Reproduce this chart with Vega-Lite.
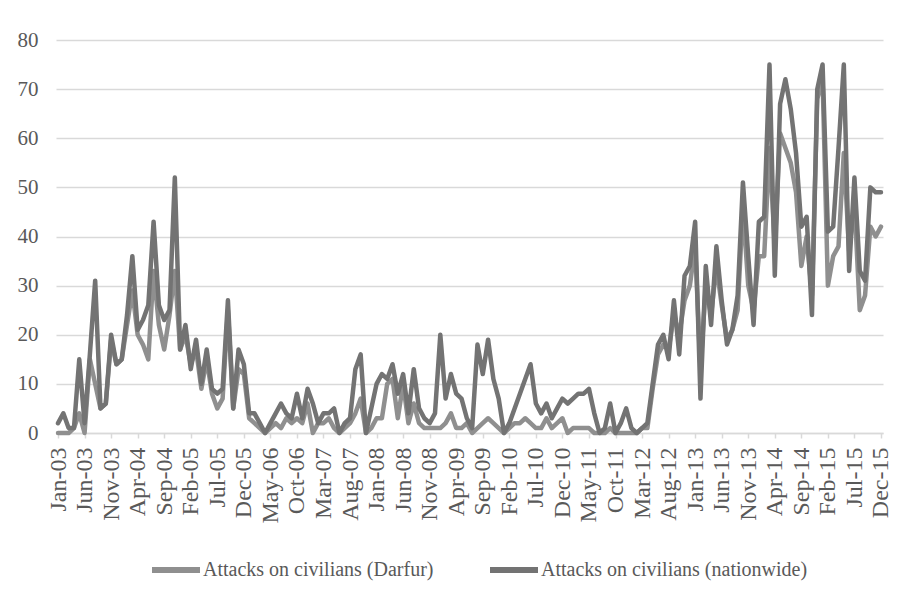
{
  "$schema": "https://vega.github.io/schema/vega-lite/v6.json",
  "width": 827,
  "height": 393,
  "autosize": {"type": "none"},
  "padding": {"left": 56, "top": 40, "right": 24, "bottom": 168},
  "background": "white",
  "config": {"view": {"stroke": null}, "font": "Liberation Serif"},
  "data": {"values": [
    {"month": "Jan-03", "Darfur": 0, "nationwide": 2},
    {"month": "Feb-03", "Darfur": 0, "nationwide": 4},
    {"month": "Mar-03", "Darfur": 0, "nationwide": 1},
    {"month": "Apr-03", "Darfur": 1, "nationwide": 1},
    {"month": "May-03", "Darfur": 4, "nationwide": 15},
    {"month": "Jun-03", "Darfur": 0, "nationwide": 2},
    {"month": "Jul-03", "Darfur": 15, "nationwide": 16},
    {"month": "Aug-03", "Darfur": 10, "nationwide": 31},
    {"month": "Sep-03", "Darfur": 5, "nationwide": 5},
    {"month": "Oct-03", "Darfur": 6, "nationwide": 6},
    {"month": "Nov-03", "Darfur": 19, "nationwide": 20},
    {"month": "Dec-03", "Darfur": 14, "nationwide": 14},
    {"month": "Jan-04", "Darfur": 15, "nationwide": 15},
    {"month": "Feb-04", "Darfur": 22, "nationwide": 24},
    {"month": "Mar-04", "Darfur": 29, "nationwide": 36},
    {"month": "Apr-04", "Darfur": 20, "nationwide": 21},
    {"month": "May-04", "Darfur": 18, "nationwide": 23},
    {"month": "Jun-04", "Darfur": 15, "nationwide": 26},
    {"month": "Jul-04", "Darfur": 33, "nationwide": 43},
    {"month": "Aug-04", "Darfur": 22, "nationwide": 26},
    {"month": "Sep-04", "Darfur": 17, "nationwide": 23},
    {"month": "Oct-04", "Darfur": 24, "nationwide": 25},
    {"month": "Nov-04", "Darfur": 33, "nationwide": 52},
    {"month": "Dec-04", "Darfur": 17, "nationwide": 17},
    {"month": "Jan-05", "Darfur": 20, "nationwide": 22},
    {"month": "Feb-05", "Darfur": 14, "nationwide": 13},
    {"month": "Mar-05", "Darfur": 17, "nationwide": 19},
    {"month": "Apr-05", "Darfur": 9, "nationwide": 10},
    {"month": "May-05", "Darfur": 15, "nationwide": 17},
    {"month": "Jun-05", "Darfur": 8, "nationwide": 9},
    {"month": "Jul-05", "Darfur": 5, "nationwide": 8},
    {"month": "Aug-05", "Darfur": 7, "nationwide": 9},
    {"month": "Sep-05", "Darfur": 25, "nationwide": 27},
    {"month": "Oct-05", "Darfur": 5, "nationwide": 5},
    {"month": "Nov-05", "Darfur": 13, "nationwide": 17},
    {"month": "Dec-05", "Darfur": 12, "nationwide": 14},
    {"month": "Jan-06", "Darfur": 3, "nationwide": 4},
    {"month": "Feb-06", "Darfur": 2, "nationwide": 4},
    {"month": "Mar-06", "Darfur": 1, "nationwide": 2},
    {"month": "Apr-06", "Darfur": 0, "nationwide": 0},
    {"month": "May-06", "Darfur": 1, "nationwide": 2},
    {"month": "Jun-06", "Darfur": 2, "nationwide": 4},
    {"month": "Jul-06", "Darfur": 1, "nationwide": 6},
    {"month": "Aug-06", "Darfur": 3, "nationwide": 4},
    {"month": "Sep-06", "Darfur": 2, "nationwide": 3},
    {"month": "Oct-06", "Darfur": 3, "nationwide": 8},
    {"month": "Nov-06", "Darfur": 2, "nationwide": 3},
    {"month": "Dec-06", "Darfur": 6, "nationwide": 9},
    {"month": "Jan-07", "Darfur": 0, "nationwide": 6},
    {"month": "Feb-07", "Darfur": 2, "nationwide": 2},
    {"month": "Mar-07", "Darfur": 2, "nationwide": 4},
    {"month": "Apr-07", "Darfur": 3, "nationwide": 4},
    {"month": "May-07", "Darfur": 1, "nationwide": 5},
    {"month": "Jun-07", "Darfur": 0, "nationwide": 0},
    {"month": "Jul-07", "Darfur": 1, "nationwide": 2},
    {"month": "Aug-07", "Darfur": 2, "nationwide": 3},
    {"month": "Sep-07", "Darfur": 4, "nationwide": 13},
    {"month": "Oct-07", "Darfur": 7, "nationwide": 16},
    {"month": "Nov-07", "Darfur": 0, "nationwide": 0},
    {"month": "Dec-07", "Darfur": 1, "nationwide": 5},
    {"month": "Jan-08", "Darfur": 3, "nationwide": 10},
    {"month": "Feb-08", "Darfur": 3, "nationwide": 12},
    {"month": "Mar-08", "Darfur": 10, "nationwide": 11},
    {"month": "Apr-08", "Darfur": 11, "nationwide": 14},
    {"month": "May-08", "Darfur": 3, "nationwide": 8},
    {"month": "Jun-08", "Darfur": 10, "nationwide": 12},
    {"month": "Jul-08", "Darfur": 2, "nationwide": 4},
    {"month": "Aug-08", "Darfur": 6, "nationwide": 13},
    {"month": "Sep-08", "Darfur": 2, "nationwide": 5},
    {"month": "Oct-08", "Darfur": 1, "nationwide": 3},
    {"month": "Nov-08", "Darfur": 1, "nationwide": 2},
    {"month": "Dec-08", "Darfur": 1, "nationwide": 4},
    {"month": "Jan-09", "Darfur": 1, "nationwide": 20},
    {"month": "Feb-09", "Darfur": 2, "nationwide": 7},
    {"month": "Mar-09", "Darfur": 4, "nationwide": 12},
    {"month": "Apr-09", "Darfur": 1, "nationwide": 8},
    {"month": "May-09", "Darfur": 1, "nationwide": 7},
    {"month": "Jun-09", "Darfur": 2, "nationwide": 3},
    {"month": "Jul-09", "Darfur": 0, "nationwide": 1},
    {"month": "Aug-09", "Darfur": 1, "nationwide": 18},
    {"month": "Sep-09", "Darfur": 2, "nationwide": 12},
    {"month": "Oct-09", "Darfur": 3, "nationwide": 19},
    {"month": "Nov-09", "Darfur": 2, "nationwide": 11},
    {"month": "Dec-09", "Darfur": 1, "nationwide": 7},
    {"month": "Jan-10", "Darfur": 0, "nationwide": 0},
    {"month": "Feb-10", "Darfur": 1, "nationwide": 2},
    {"month": "Mar-10", "Darfur": 2, "nationwide": 5},
    {"month": "Apr-10", "Darfur": 2, "nationwide": 8},
    {"month": "May-10", "Darfur": 3, "nationwide": 11},
    {"month": "Jun-10", "Darfur": 2, "nationwide": 14},
    {"month": "Jul-10", "Darfur": 1, "nationwide": 6},
    {"month": "Aug-10", "Darfur": 1, "nationwide": 4},
    {"month": "Sep-10", "Darfur": 3, "nationwide": 6},
    {"month": "Oct-10", "Darfur": 1, "nationwide": 3},
    {"month": "Nov-10", "Darfur": 2, "nationwide": 5},
    {"month": "Dec-10", "Darfur": 3, "nationwide": 7},
    {"month": "Jan-11", "Darfur": 0, "nationwide": 6},
    {"month": "Feb-11", "Darfur": 1, "nationwide": 7},
    {"month": "Mar-11", "Darfur": 1, "nationwide": 8},
    {"month": "Apr-11", "Darfur": 1, "nationwide": 8},
    {"month": "May-11", "Darfur": 1, "nationwide": 9},
    {"month": "Jun-11", "Darfur": 0, "nationwide": 4},
    {"month": "Jul-11", "Darfur": 0, "nationwide": 0},
    {"month": "Aug-11", "Darfur": 0, "nationwide": 1},
    {"month": "Sep-11", "Darfur": 1, "nationwide": 6},
    {"month": "Oct-11", "Darfur": 0, "nationwide": 0},
    {"month": "Nov-11", "Darfur": 0, "nationwide": 2},
    {"month": "Dec-11", "Darfur": 0, "nationwide": 5},
    {"month": "Jan-12", "Darfur": 0, "nationwide": 1},
    {"month": "Feb-12", "Darfur": 0, "nationwide": 0},
    {"month": "Mar-12", "Darfur": 1, "nationwide": 1},
    {"month": "Apr-12", "Darfur": 1, "nationwide": 2},
    {"month": "May-12", "Darfur": 9, "nationwide": 10},
    {"month": "Jun-12", "Darfur": 16, "nationwide": 18},
    {"month": "Jul-12", "Darfur": 18, "nationwide": 20},
    {"month": "Aug-12", "Darfur": 17, "nationwide": 15},
    {"month": "Sep-12", "Darfur": 24, "nationwide": 27},
    {"month": "Oct-12", "Darfur": 20, "nationwide": 16},
    {"month": "Nov-12", "Darfur": 27, "nationwide": 32},
    {"month": "Dec-12", "Darfur": 30, "nationwide": 34},
    {"month": "Jan-13", "Darfur": 38, "nationwide": 43},
    {"month": "Feb-13", "Darfur": 13, "nationwide": 7},
    {"month": "Mar-13", "Darfur": 30, "nationwide": 34},
    {"month": "Apr-13", "Darfur": 24, "nationwide": 22},
    {"month": "May-13", "Darfur": 34, "nationwide": 38},
    {"month": "Jun-13", "Darfur": 26, "nationwide": 27},
    {"month": "Jul-13", "Darfur": 19, "nationwide": 18},
    {"month": "Aug-13", "Darfur": 21, "nationwide": 21},
    {"month": "Sep-13", "Darfur": 25, "nationwide": 28},
    {"month": "Oct-13", "Darfur": 46, "nationwide": 51},
    {"month": "Nov-13", "Darfur": 30, "nationwide": 36},
    {"month": "Dec-13", "Darfur": 25, "nationwide": 22},
    {"month": "Jan-14", "Darfur": 36, "nationwide": 43},
    {"month": "Feb-14", "Darfur": 36, "nationwide": 44},
    {"month": "Mar-14", "Darfur": 58, "nationwide": 75},
    {"month": "Apr-14", "Darfur": 38, "nationwide": 32},
    {"month": "May-14", "Darfur": 61, "nationwide": 67},
    {"month": "Jun-14", "Darfur": 58, "nationwide": 72},
    {"month": "Jul-14", "Darfur": 55, "nationwide": 66},
    {"month": "Aug-14", "Darfur": 49, "nationwide": 57},
    {"month": "Sep-14", "Darfur": 34, "nationwide": 42},
    {"month": "Oct-14", "Darfur": 40, "nationwide": 44},
    {"month": "Nov-14", "Darfur": 28, "nationwide": 24},
    {"month": "Dec-14", "Darfur": 68, "nationwide": 70},
    {"month": "Jan-15", "Darfur": 72, "nationwide": 75},
    {"month": "Feb-15", "Darfur": 30, "nationwide": 41},
    {"month": "Mar-15", "Darfur": 36, "nationwide": 42},
    {"month": "Apr-15", "Darfur": 38, "nationwide": 58},
    {"month": "May-15", "Darfur": 57, "nationwide": 75},
    {"month": "Jun-15", "Darfur": 37, "nationwide": 33},
    {"month": "Jul-15", "Darfur": 47, "nationwide": 52},
    {"month": "Aug-15", "Darfur": 25, "nationwide": 33},
    {"month": "Sep-15", "Darfur": 28, "nationwide": 31},
    {"month": "Oct-15", "Darfur": 42, "nationwide": 50},
    {"month": "Nov-15", "Darfur": 40, "nationwide": 49},
    {"month": "Dec-15", "Darfur": 42, "nationwide": 49}
  ]},
  "transform": [{"fold": ["Darfur", "nationwide"], "as": ["series", "value"]}],
  "mark": {"type": "line", "strokeWidth": 4.5, "strokeJoin": "round", "strokeCap": "round"},
  "encoding": {
    "x": {
      "field": "month", "type": "ordinal", "sort": null,
      "scale": {"type": "point", "padding": 0.38},
      "axis": {
        "title": null,
        "values": ["Jan-03","Jun-03","Nov-03","Apr-04","Sep-04","Feb-05","Jul-05","Dec-05","May-06","Oct-06","Mar-07","Aug-07","Jan-08","Jun-08","Nov-08","Apr-09","Sep-09","Feb-10","Jul-10","Dec-10","May-11","Oct-11","Mar-12","Aug-12","Jan-13","Jun-13","Nov-13","Apr-14","Sep-14","Feb-15","Jul-15","Dec-15"],
        "labelAngle": -90,
        "labelFont": "Liberation Serif",
        "labelFontSize": 24,
        "labelColor": "#595959",
        "labelPadding": 9,
        "labelOverlap": false,
        "tickSize": 5,
        "tickColor": "#d9d9d9",
        "tickWidth": 1.5,
        "domainColor": "#d9d9d9",
        "domainWidth": 1.5,
        "grid": false
      }
    },
    "y": {
      "field": "value", "type": "quantitative",
      "scale": {"domain": [0, 80], "nice": false},
      "axis": {
        "title": null,
        "values": [0, 10, 20, 30, 40, 50, 60, 70, 80],
        "ticks": false,
        "domain": false,
        "gridColor": "#d9d9d9",
        "gridWidth": 1.5,
        "labelFont": "Liberation Serif",
        "labelFontSize": 21,
        "labelColor": "#595959",
        "labelPadding": 18
      }
    },
    "color": {
      "field": "series", "type": "nominal",
      "scale": {"domain": ["Darfur", "nationwide"], "range": ["#8f8f8f", "#737373"]},
      "legend": {
        "title": null,
        "orient": "none",
        "legendX": 93,
        "legendY": 503,
        "direction": "horizontal",
        "symbolType": "stroke",
        "symbolSize": 2304,
        "symbolStrokeWidth": 6,
        "labelExpr": "'Attacks on civilians (' + datum.label + ')'",
        "labelFont": "Liberation Serif",
        "labelFontSize": 20,
        "labelColor": "#595959",
        "labelLimit": 0,
        "labelOffset": 0,
        "columnPadding": 44
      }
    },
    "order": {"value": null}
  }
}
